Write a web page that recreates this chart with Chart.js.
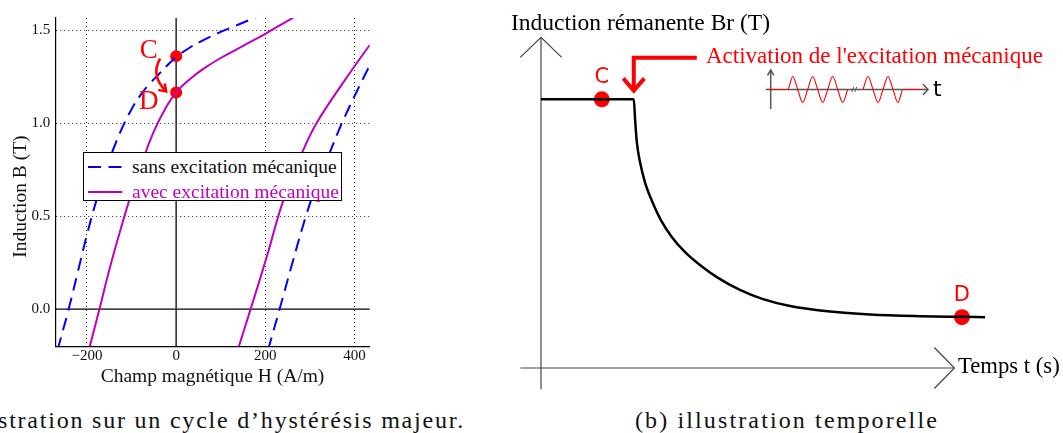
<!DOCTYPE html>
<html lang="fr">
<head>
<meta charset="utf-8">
<title>Cycle d'hystérésis et induction rémanente</title>
<script src="https://cdn.jsdelivr.net/npm/chart.js@4.4.1/dist/chart.umd.min.js"></script>
<style>
  html, body { margin: 0; padding: 0; background: #fff; }
  #page { position: relative; width: 1063px; height: 433px; overflow: hidden; font-family: 'Liberation Serif', serif; color: #000; }
  canvas { position: absolute; }
  #cycleChart { left: 0; top: 0; }
  #tempsChart { left: 500px; top: 0; }
  #excChart { left: 760px; top: 62px; }
  .lbl { position: absolute; white-space: nowrap; line-height: 1; }
  #legend { position: absolute; left: 83px; top: 152px; width: 257px; height: 47px; border: 1px solid #000; background: #fff; }
  #legend .row { position: absolute; left: 0; height: 20px; }
  #legend svg { position: absolute; left: 4px; top: 7px; }
  #legend span { position: absolute; left: 48px; top: 0; font-size: 19.5px; line-height: 20px; white-space: nowrap; }
  .caption { font-size: 24px; color: #111; }
</style>
</head>
<body>
<div id="page">
  <canvas id="cycleChart" width="380" height="400"></canvas>
  <div id="legend"></div>

  <canvas id="tempsChart" width="563" height="400"></canvas>
  <canvas id="excChart" width="190" height="55"></canvas>

  <div class="lbl" style="left:511px; top:11px; font-size:23.5px;">Induction rémanente Br (T)</div>
  <div class="lbl" style="left:706px; top:43.5px; font-size:23px; color:#f00;">Activation de l'excitation mécanique</div>
  <div class="lbl" style="left:958px; top:354.5px; font-size:22.7px;">Temps t (s)</div>
  <div class="lbl" style="left:933px; top:78px; font-size:22px; font-family:'DejaVu Sans', sans-serif;">t</div>

  <div class="lbl caption" id="capA" style="top:408.2px;">stration sur un cycle d’hystérésis majeur.</div>
  <div class="lbl caption" id="capB" style="left:635px; top:408.2px;">(b) illustration temporelle</div>
</div>

<script>
// (a) cycle d'hystérésis : H en A/m, B en T
const H_TICKS = [-200, 0, 200, 400];
const B_TICKS = [0, 0.5, 1.0, 1.5];

const H_SANS_DESC = [-266, -241, -220, -200, -180, -160, -140, -120, -100, -80, -60, -40, -20, 0, 30, 60, 100, 140, 180];
const B_SANS_DESC = [-0.22, 0, 0.205, 0.40, 0.575, 0.73, 0.865, 0.98, 1.075, 1.15, 1.21, 1.26, 1.31, 1.355, 1.405, 1.445, 1.49, 1.53, 1.57];
const H_SANS_ASC = [206, 232, 262, 291, 318, 345, 369, 400, 434, 442];
const B_SANS_ASC = [-0.22, 0, 0.26, 0.5, 0.69, 0.845, 0.985, 1.145, 1.31, 1.345];

const H_AVEC_DESC = [-198, -172, -150, -125, -100, -75, -50, -25, 0, 30, 60, 100, 150, 200, 250, 280];
const B_AVEC_DESC = [-0.24, 0, 0.21, 0.425, 0.625, 0.80, 0.955, 1.075, 1.165, 1.235, 1.29, 1.35, 1.415, 1.48, 1.55, 1.59];
const H_AVEC_ASC = [138, 167, 203, 241, 285, 315, 368, 434, 442];
const B_AVEC_ASC = [-0.22, 0, 0.28, 0.59, 0.855, 1.0, 1.195, 1.42, 1.44];

const CD_LABELS = ['C', 'D'];
const CD_H = [0, 0];
const CD_B = [1.36, 1.165];

// (b) illustration temporelle : t et Br en unités arbitraires
const T_VALUES = [0, 1.37, 2.09, 2.12, 2.16, 2.23, 2.34, 2.50, 2.70, 2.95, 3.24, 3.58, 3.96, 4.48, 5.00, 5.61, 6.51, 7.41, 8.54, 9.48, 10];
const BR_VALUES = [0.819, 0.819, 0.819, 0.756, 0.686, 0.628, 0.567, 0.509, 0.451, 0.399, 0.354, 0.314, 0.277, 0.238, 0.210, 0.189, 0.172, 0.163, 0.158, 0.156, 0.155];
const TR_T = [1.37, 9.48];
const TR_BR = [0.819, 0.155];
const T_ACTIVATION = 2.09;

// encart : excitation sinusoïdale (avec coupure)
const EXC1_U = [-0.4, 1.7, 2.2, 2.7, 3.2, 3.7, 4.2, 4.7, 5.2, 5.7, 6.2, 6.7, 7.2, 7.7];
const EXC1_A = [0, 0, 1, 0, -1, 0, 1, 0, -1, 0, 1, 0, -1, 0];
const EXC2_U = [9.23, 9.73, 10.23, 10.73, 11.23, 11.73, 12.23, 12.73, 13.23, 15.2];
const EXC2_A = [0, 1, 0, -1, 0, 1, 0, -1, 0, 0];
const EXC_BREAK = 8.35;

const BLUE = '#0000ff', MAGENTA = '#bf00bf', RED = '#ff0000';
const SERIF = 'Liberation Serif';
const SANS_DASH = [13, 7.5];

const pts = (xs, ys) => xs.map((v, i) => ({ x: v, y: ys[i] }));
const fixedTicks = list => s => { s.ticks = list.map(v => ({ value: v })); };

function line(ctx, coords) {
    ctx.beginPath();
    coords.forEach(([x, y], i) => i ? ctx.lineTo(x, y) : ctx.moveTo(x, y));
    ctx.stroke();
}

function arrowHead(ctx, tx, ty, ang, len, spread) {
    line(ctx, [
        [tx - len * Math.cos(ang - spread), ty - len * Math.sin(ang - spread)],
        [tx, ty],
        [tx - len * Math.cos(ang + spread), ty - len * Math.sin(ang + spread)]
    ]);
}

const base = {
    responsive: false,
    animation: false,
    events: [],
    plugins: { legend: { display: false }, tooltip: { enabled: false } }
};

// ---------- (a) ----------
const cycleDecor = {
    id: 'cycleDecor',
    beforeDatasetsDraw(chart) {
        const { ctx, chartArea: a, scales: { x, y } } = chart;
        const x0 = x.getPixelForValue(0), y0 = y.getPixelForValue(0);
        ctx.save();
        ctx.strokeStyle = '#000';
        ctx.lineWidth = 1.2;
        line(ctx, [[a.left, y0], [a.right, y0]]);
        ctx.strokeStyle = '#333';
        ctx.lineWidth = 1.6;
        line(ctx, [[x0, a.top], [x0, a.bottom]]);
        ctx.restore();
    },
    afterDatasetsDraw(chart) {
        const { ctx } = chart;
        const [c, d] = chart.getDatasetMeta(4).data;
        ctx.save();
        ctx.fillStyle = RED;
        ctx.font = `27px ${SERIF}`;
        ctx.textAlign = 'center';
        ctx.textBaseline = 'alphabetic';
        ctx.fillText(CD_LABELS[0], c.x - 27.5, c.y + 1.5);
        ctx.fillText(CD_LABELS[1], d.x - 27.5, d.y + 16.5);

        // flèche courbe C -> D
        const p0 = [c.x - 16, c.y + 2.5], cp = [c.x - 26, (c.y + d.y) / 2 + 1], p2 = [d.x - 10, d.y - 1];
        ctx.strokeStyle = RED;
        ctx.lineWidth = 2.5;
        ctx.beginPath();
        ctx.moveTo(p0[0], p0[1]);
        ctx.quadraticCurveTo(cp[0], cp[1], p2[0], p2[1]);
        ctx.stroke();
        arrowHead(ctx, p2[0], p2[1], Math.atan2(p2[1] - cp[1], p2[0] - cp[0]), 8, 0.6);
        ctx.restore();
    },
    afterDraw(chart) {
        const { ctx, chartArea: a } = chart;
        ctx.save();
        ctx.fillStyle = '#111';
        ctx.font = `19.5px ${SERIF}`;
        ctx.textAlign = 'center';
        ctx.textBaseline = 'alphabetic';
        ctx.translate(25.5, (a.top + a.bottom) / 2 + 14.5);
        ctx.rotate(-Math.PI / 2);
        ctx.fillText('Induction B (T)', 0, 0);
        ctx.restore();
    }
};

const curve = (data, color, dash, label) => ({
    label, data, showLine: true, borderColor: color, backgroundColor: color,
    borderWidth: 2, borderDash: dash, pointRadius: 0, tension: 0.4
});

const gridOpts = {
    color: c => (c.tick && c.tick.value === 0) ? 'rgba(0,0,0,0)' : '#222',
    lineWidth: 1,
    drawTicks: false
};
const borderOpts = { display: true, color: '#000', width: 1.2, dash: [1, 3] };

const cycleChart = new Chart(document.getElementById('cycleChart'), {
    type: 'scatter',
    data: {
        datasets: [
            curve(pts(H_SANS_DESC, B_SANS_DESC), BLUE, SANS_DASH, 'sans excitation mécanique'),
            curve(pts(H_SANS_ASC, B_SANS_ASC), BLUE, SANS_DASH),
            curve(pts(H_AVEC_DESC, B_AVEC_DESC), MAGENTA, [], 'avec excitation mécanique'),
            curve(pts(H_AVEC_ASC, B_AVEC_ASC), MAGENTA, []),
            { data: pts(CD_H, CD_B), pointRadius: 6, backgroundColor: RED, borderWidth: 0 }
        ]
    },
    options: {
        ...base,
        layout: { padding: { top: 18, right: 10.3, left: 0, bottom: 0 } },
        scales: {
            x: {
                type: 'linear', min: -271, max: 434,
                afterBuildTicks: fixedTicks(H_TICKS),
                afterFit: s => { s.height = 53.7; },
                grid: gridOpts, border: borderOpts,
                ticks: {
                    font: { family: SERIF, size: 15 }, color: '#111', padding: 1, maxRotation: 0,
                    callback: v => v < 0 ? '\u2212' + Math.abs(v) : String(v)
                },
                title: {
                    display: true, text: 'Champ magnétique H (A/m)', color: '#111',
                    font: { family: SERIF, size: 19.5 }, padding: { top: 0, bottom: 11.3 }
                }
            },
            y: {
                type: 'linear', min: -0.2, max: 1.565,
                afterBuildTicks: fixedTicks(B_TICKS),
                afterFit: s => { s.width = 55.3; },
                grid: gridOpts, border: borderOpts,
                ticks: { font: { family: SERIF, size: 15 }, color: '#111', padding: 5, callback: v => v.toFixed(1) }
            }
        }
    },
    plugins: [cycleDecor]
});

// légende HTML construite depuis les jeux de données
const legendEl = document.getElementById('legend');
legendEl.innerHTML = cycleChart.data.datasets
    .filter(ds => ds.label)
    .map((ds, i) => `
    <div class="row" style="top:${4 + i * 24.5}px; width:100%;">
      <svg width="36" height="6"><line x1="0" y1="3" x2="34.4" y2="3" stroke="${ds.borderColor}" stroke-width="2.2"
        stroke-dasharray="${(ds.borderDash || []).join(' ') || 'none'}"/></svg>
      <span style="color:${ds.borderColor === BLUE ? '#111' : ds.borderColor}">${ds.label}</span>
    </div>`).join('');

// ---------- (b) ----------
const tempsDecor = {
    id: 'tempsDecor',
    beforeDatasetsDraw(chart) {
        const { ctx, scales: { x, y } } = chart;
        const ox = x.getPixelForValue(0), oy = y.getPixelForValue(0);
        const yTop = y.getPixelForValue(1.008), yBot = y.getPixelForValue(-0.065);
        const xL = x.getPixelForValue(-0.46), xR = x.getPixelForValue(9.31);
        ctx.save();
        ctx.strokeStyle = '#444';
        ctx.lineWidth = 1.2;
        line(ctx, [[ox, yBot], [ox, yTop]]);
        line(ctx, [[ox - 20.7, yTop + 20], [ox, yTop], [ox + 20.7, yTop + 20]]);
        line(ctx, [[xL, oy], [xR, oy]]);
        line(ctx, [[xR - 20, oy - 20.5], [xR, oy], [xR - 20, oy + 20.5]]);
        ctx.restore();
    },
    afterDatasetsDraw(chart) {
        const { ctx, scales: { x, y } } = chart;
        const pts = chart.getDatasetMeta(1).data;
        ctx.save();
        ctx.fillStyle = RED;
        ctx.font = '21px "DejaVu Sans"';
        ctx.textAlign = 'center';
        ctx.textBaseline = 'alphabetic';
        pts.forEach((p, i) => ctx.fillText(CD_LABELS[i], p.x, p.y - 16.3));

        // flèche coudée : activation de l'excitation
        const ax = x.getPixelForValue(T_ACTIVATION);
        const tip = y.getPixelForValue(BR_VALUES[0]) - 8.6;
        ctx.strokeStyle = RED;
        ctx.lineWidth = 4;
        ctx.lineJoin = 'miter';
        line(ctx, [[ax + 63, tip - 33], [ax, tip - 33], [ax, tip - 2]]);
        line(ctx, [[ax - 10.5, tip - 12.4], [ax, tip], [ax + 10.5, tip - 12.4]]);
        ctx.restore();
    }
};

new Chart(document.getElementById('tempsChart'), {
    type: 'scatter',
    data: {
        datasets: [
            {
                data: pts(T_VALUES, BR_VALUES), showLine: true, borderColor: '#000', borderWidth: 2.5,
                pointRadius: 0, cubicInterpolationMode: 'monotone', clip: false
            },
            { data: pts(TR_T, TR_BR), pointRadius: 8, backgroundColor: RED, borderWidth: 0 }
        ]
    },
    options: {
        ...base,
        layout: { padding: { left: 41, right: 78, top: 40, bottom: 32 } },
        scales: {
            x: { type: 'linear', min: 0, max: 10, display: false },
            y: { type: 'linear', min: 0, max: 1, display: false }
        }
    },
    plugins: [tempsDecor]
});

// ---------- encart excitation ----------
const excDecor = {
    id: 'excDecor',
    beforeDatasetsDraw(chart) {
        const { ctx, chartArea: a, scales: { x, y } } = chart;
        const ox = x.getPixelForValue(0), oy = y.getPixelForValue(0);
        const xL = x.getPixelForValue(-0.47);
        ctx.save();
        ctx.strokeStyle = '#555';
        ctx.lineWidth = 1.5;
        line(ctx, [[ox, a.bottom], [ox, a.top]]);
        line(ctx, [[ox - 3.2, a.top + 5.3], [ox, a.top], [ox + 3.2, a.top + 5.3]]);
        line(ctx, [[xL, oy], [a.right, oy]]);
        line(ctx, [[a.right - 5, oy - 5.3], [a.right, oy], [a.right - 5, oy + 5.3]]);
        ctx.restore();
    },
    afterDatasetsDraw(chart) {
        const { ctx, scales: { x, y } } = chart;
        const bx = x.getPixelForValue(EXC_BREAK), by = y.getPixelForValue(0);
        ctx.save();
        ctx.strokeStyle = '#555';
        ctx.lineWidth = 1;
        line(ctx, [[bx - 2.5, by + 2.5], [bx - 0.5, by - 2.5]]);
        line(ctx, [[bx + 0.5, by + 2.5], [bx + 2.5, by - 2.5]]);
        ctx.restore();
    }
};

const wave = data => ({
    data, showLine: true, borderColor: RED, borderWidth: 1.1, pointRadius: 0,
    cubicInterpolationMode: 'monotone', clip: false
});

new Chart(document.getElementById('excChart'), {
    type: 'scatter',
    data: { datasets: [wave(pts(EXC1_U, EXC1_A)), wave(pts(EXC2_U, EXC2_A))] },
    options: {
        ...base,
        layout: { padding: { left: 10.7, right: 22, top: 8, bottom: 8 } },
        scales: {
            x: { type: 'linear', min: 0, max: 15.73, display: false },
            y: { type: 'linear', min: -1.5, max: 1.5, display: false }
        }
    },
    plugins: [excDecor]
});

// légendes des sous-figures, espacées comme l'original
function fitWidth(el, w) {
    el.style.letterSpacing = '0px';
    const nat = el.getBoundingClientRect().width;
    el.style.letterSpacing = ((w - nat) / el.textContent.length) + 'px';
}
const capA = document.getElementById('capA');
fitWidth(capA, 467);
capA.style.left = (465 - capA.getBoundingClientRect().width) + 'px';
fitWidth(document.getElementById('capB'), 304);
</script>
</body>
</html>
